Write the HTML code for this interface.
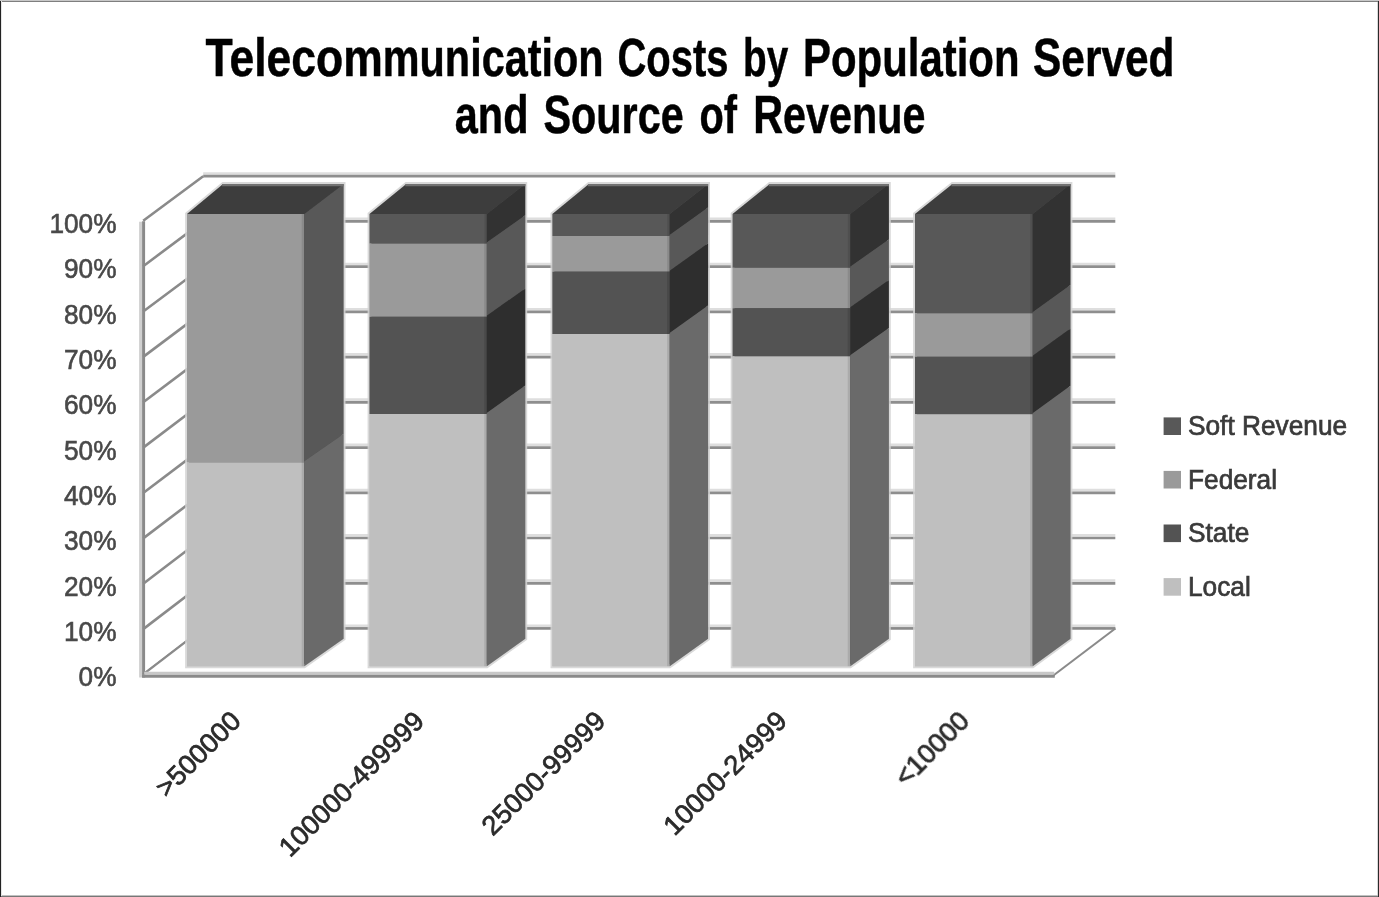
<!DOCTYPE html>
<html><head><meta charset="utf-8"><title>Telecommunication Costs by Population Served and Source of Revenue</title>
<style>
html,body{margin:0;padding:0;background:#fff;}
body{width:1379px;height:897px;overflow:hidden;font-family:"Liberation Sans",sans-serif;}
svg{display:block;}
</style></head><body>
<svg width="1379" height="897" viewBox="0 0 1379 897">
<defs><filter id="b1" x="-5%" y="-20%" width="110%" height="140%"><feGaussianBlur stdDeviation="0.75"/></filter><filter id="b2" x="-2%" y="-2%" width="104%" height="104%"><feGaussianBlur stdDeviation="0.55"/></filter></defs>
<rect width="1379" height="897" fill="#fff"/>
<g filter="url(#b2)">
<line x1="203.2" y1="625.8" x2="1115.3" y2="625.8" stroke="#dedede" stroke-width="2.6"/>
<line x1="203.2" y1="628.5" x2="1115.3" y2="628.5" stroke="#8e8e8e" stroke-width="2.7"/>
<line x1="203.2" y1="580.6" x2="1115.3" y2="580.6" stroke="#dedede" stroke-width="2.6"/>
<line x1="203.2" y1="583.3" x2="1115.3" y2="583.3" stroke="#8e8e8e" stroke-width="2.7"/>
<line x1="203.2" y1="535.3" x2="1115.3" y2="535.3" stroke="#dedede" stroke-width="2.6"/>
<line x1="203.2" y1="538.0" x2="1115.3" y2="538.0" stroke="#8e8e8e" stroke-width="2.7"/>
<line x1="203.2" y1="490.1" x2="1115.3" y2="490.1" stroke="#dedede" stroke-width="2.6"/>
<line x1="203.2" y1="492.8" x2="1115.3" y2="492.8" stroke="#8e8e8e" stroke-width="2.7"/>
<line x1="203.2" y1="444.9" x2="1115.3" y2="444.9" stroke="#dedede" stroke-width="2.6"/>
<line x1="203.2" y1="447.6" x2="1115.3" y2="447.6" stroke="#8e8e8e" stroke-width="2.7"/>
<line x1="203.2" y1="399.6" x2="1115.3" y2="399.6" stroke="#dedede" stroke-width="2.6"/>
<line x1="203.2" y1="402.3" x2="1115.3" y2="402.3" stroke="#8e8e8e" stroke-width="2.7"/>
<line x1="203.2" y1="354.4" x2="1115.3" y2="354.4" stroke="#dedede" stroke-width="2.6"/>
<line x1="203.2" y1="357.1" x2="1115.3" y2="357.1" stroke="#8e8e8e" stroke-width="2.7"/>
<line x1="203.2" y1="309.2" x2="1115.3" y2="309.2" stroke="#dedede" stroke-width="2.6"/>
<line x1="203.2" y1="311.9" x2="1115.3" y2="311.9" stroke="#8e8e8e" stroke-width="2.7"/>
<line x1="203.2" y1="264.0" x2="1115.3" y2="264.0" stroke="#dedede" stroke-width="2.6"/>
<line x1="203.2" y1="266.7" x2="1115.3" y2="266.7" stroke="#8e8e8e" stroke-width="2.7"/>
<line x1="203.2" y1="218.7" x2="1115.3" y2="218.7" stroke="#dedede" stroke-width="2.6"/>
<line x1="203.2" y1="221.4" x2="1115.3" y2="221.4" stroke="#8e8e8e" stroke-width="2.7"/>
<line x1="203.2" y1="173.5" x2="1115.3" y2="173.5" stroke="#dedede" stroke-width="2.6"/>
<line x1="203.2" y1="176.2" x2="1115.3" y2="176.2" stroke="#8e8e8e" stroke-width="2.7"/>
<line x1="143.2" y1="674.5" x2="203.2" y2="628.5" stroke="#8a8a8a" stroke-width="2.6"/>
<line x1="143.2" y1="629.1" x2="203.2" y2="583.3" stroke="#8a8a8a" stroke-width="2.6"/>
<line x1="143.2" y1="583.8" x2="203.2" y2="538.0" stroke="#8a8a8a" stroke-width="2.6"/>
<line x1="143.2" y1="538.4" x2="203.2" y2="492.8" stroke="#8a8a8a" stroke-width="2.6"/>
<line x1="143.2" y1="493.0" x2="203.2" y2="447.6" stroke="#8a8a8a" stroke-width="2.6"/>
<line x1="143.2" y1="447.6" x2="203.2" y2="402.3" stroke="#8a8a8a" stroke-width="2.6"/>
<line x1="143.2" y1="402.3" x2="203.2" y2="357.1" stroke="#8a8a8a" stroke-width="2.6"/>
<line x1="143.2" y1="356.9" x2="203.2" y2="311.9" stroke="#8a8a8a" stroke-width="2.6"/>
<line x1="143.2" y1="311.5" x2="203.2" y2="266.7" stroke="#8a8a8a" stroke-width="2.6"/>
<line x1="143.2" y1="266.2" x2="203.2" y2="221.4" stroke="#8a8a8a" stroke-width="2.6"/>
<line x1="143.2" y1="220.8" x2="203.2" y2="176.2" stroke="#8a8a8a" stroke-width="2.6"/>
<line x1="140.6" y1="221.8" x2="140.6" y2="677.5" stroke="#d0d0d0" stroke-width="3"/>
<line x1="143.6" y1="221.3" x2="143.6" y2="677.5" stroke="#8a8a8a" stroke-width="3"/>
<polygon points="143.2,674.5 1053.3,674.5 1115.3,628.5 203.2,628.5" fill="#fff" stroke="none"/>
<line x1="203.2" y1="628.5" x2="1115.3" y2="628.5" stroke="#8a8a8a" stroke-width="2.6"/>
<line x1="143.2" y1="674.5" x2="203.2" y2="628.5" stroke="#8a8a8a" stroke-width="2.1"/>
<line x1="1053.3" y1="675.5" x2="1115.3" y2="628.5" stroke="#8a8a8a" stroke-width="2.1"/>
<line x1="144.2" y1="673.2" x2="1054.3" y2="673.2" stroke="#c8c8c8" stroke-width="3"/>
<line x1="142.1" y1="676.2" x2="1054.8" y2="676.2" stroke="#8a8a8a" stroke-width="3.1"/>
<polygon points="187.0,666.3 187.0,214.0 223.1,184.0 343.6,184.0 343.6,638.7 304.3,666.3" fill="#4a4a4a" stroke="#d2d2d2" stroke-opacity="0.85" stroke-width="3.8"/>
<rect x="187.0" y="214.0" width="117.3" height="248.3" fill="#9a9a9a"/>
<polygon points="304.3,214.0 343.6,184.0 343.6,433.9 304.3,461.3" fill="#595959"/>
<rect x="187.0" y="462.3" width="117.3" height="204.0" fill="#bfbfbf"/>
<polygon points="304.3,461.3 343.6,433.9 343.6,638.7 304.3,666.3" fill="#6b6b6b"/>
<line x1="303.0" y1="214.0" x2="303.0" y2="666.3" stroke="#000" stroke-opacity="0.1" stroke-width="2.6"/>
<polygon points="187.0,214.0 223.1,184.0 343.6,184.0 304.3,214.0" fill="#3e3e3e"/>
<line x1="222.1" y1="185.1" x2="343.6" y2="185.1" stroke="#727272" stroke-width="2.4"/>
<polygon points="369.5,666.3 369.5,214.0 406.3,184.0 525.3,184.0 525.3,638.7 486.8,666.3" fill="#4a4a4a" stroke="#d2d2d2" stroke-opacity="0.85" stroke-width="3.8"/>
<rect x="369.5" y="214.0" width="117.3" height="29.6" fill="#595959"/>
<polygon points="486.8,214.0 525.3,184.0 525.3,215.2 486.8,242.6" fill="#333333"/>
<rect x="369.5" y="243.6" width="117.3" height="73.2" fill="#9a9a9a"/>
<polygon points="486.8,242.6 525.3,215.2 525.3,288.4 486.8,315.8" fill="#595959"/>
<rect x="369.5" y="316.8" width="117.3" height="97.2" fill="#525252"/>
<polygon points="486.8,315.8 525.3,288.4 525.3,385.6 486.8,413.0" fill="#2f2f2f"/>
<rect x="369.5" y="414.0" width="117.3" height="252.3" fill="#bfbfbf"/>
<polygon points="486.8,413.0 525.3,385.6 525.3,638.7 486.8,666.3" fill="#6b6b6b"/>
<line x1="485.5" y1="214.0" x2="485.5" y2="666.3" stroke="#000" stroke-opacity="0.1" stroke-width="2.6"/>
<polygon points="369.5,214.0 406.3,184.0 525.3,184.0 486.8,214.0" fill="#3e3e3e"/>
<line x1="405.3" y1="185.1" x2="525.3" y2="185.1" stroke="#727272" stroke-width="2.4"/>
<polygon points="552.4,666.3 552.4,214.0 588.9,184.0 708.1,184.0 708.1,638.7 669.7,666.3" fill="#4a4a4a" stroke="#d2d2d2" stroke-opacity="0.85" stroke-width="3.8"/>
<rect x="552.4" y="214.0" width="117.3" height="22.0" fill="#595959"/>
<polygon points="669.7,214.0 708.1,184.0 708.1,207.6 669.7,235.0" fill="#333333"/>
<rect x="552.4" y="236.0" width="117.3" height="35.7" fill="#9a9a9a"/>
<polygon points="669.7,235.0 708.1,207.6 708.1,243.3 669.7,270.7" fill="#595959"/>
<rect x="552.4" y="271.7" width="117.3" height="62.3" fill="#525252"/>
<polygon points="669.7,270.7 708.1,243.3 708.1,305.6 669.7,333.0" fill="#2f2f2f"/>
<rect x="552.4" y="334.0" width="117.3" height="332.3" fill="#bfbfbf"/>
<polygon points="669.7,333.0 708.1,305.6 708.1,638.7 669.7,666.3" fill="#6b6b6b"/>
<line x1="668.4" y1="214.0" x2="668.4" y2="666.3" stroke="#000" stroke-opacity="0.1" stroke-width="2.6"/>
<polygon points="552.4,214.0 588.9,184.0 708.1,184.0 669.7,214.0" fill="#3e3e3e"/>
<line x1="587.9" y1="185.1" x2="708.1" y2="185.1" stroke="#727272" stroke-width="2.4"/>
<polygon points="732.6,666.3 732.6,214.0 769.8,184.0 888.9,184.0 888.9,638.7 850.3,666.3" fill="#4a4a4a" stroke="#d2d2d2" stroke-opacity="0.85" stroke-width="3.8"/>
<rect x="732.6" y="214.0" width="117.7" height="53.8" fill="#595959"/>
<polygon points="850.3,214.0 888.9,184.0 888.9,239.4 850.3,266.8" fill="#333333"/>
<rect x="732.6" y="267.8" width="117.7" height="40.5" fill="#9a9a9a"/>
<polygon points="850.3,266.8 888.9,239.4 888.9,279.9 850.3,307.3" fill="#595959"/>
<rect x="732.6" y="308.3" width="117.7" height="48.0" fill="#525252"/>
<polygon points="850.3,307.3 888.9,279.9 888.9,327.9 850.3,355.3" fill="#2f2f2f"/>
<rect x="732.6" y="356.3" width="117.7" height="310.0" fill="#bfbfbf"/>
<polygon points="850.3,355.3 888.9,327.9 888.9,638.7 850.3,666.3" fill="#6b6b6b"/>
<line x1="849.0" y1="214.0" x2="849.0" y2="666.3" stroke="#000" stroke-opacity="0.1" stroke-width="2.6"/>
<polygon points="732.6,214.0 769.8,184.0 888.9,184.0 850.3,214.0" fill="#3e3e3e"/>
<line x1="768.8" y1="185.1" x2="888.9" y2="185.1" stroke="#727272" stroke-width="2.4"/>
<polygon points="915.0,666.3 915.0,214.0 952.5,184.0 1070.5,184.0 1070.5,638.7 1032.7,666.3" fill="#4a4a4a" stroke="#d2d2d2" stroke-opacity="0.85" stroke-width="3.8"/>
<rect x="915.0" y="214.0" width="117.7" height="99.3" fill="#595959"/>
<polygon points="1032.7,214.0 1070.5,184.0 1070.5,284.9 1032.7,312.3" fill="#333333"/>
<rect x="915.0" y="313.3" width="117.7" height="43.5" fill="#9a9a9a"/>
<polygon points="1032.7,312.3 1070.5,284.9 1070.5,328.4 1032.7,355.8" fill="#595959"/>
<rect x="915.0" y="356.8" width="117.7" height="57.4" fill="#525252"/>
<polygon points="1032.7,355.8 1070.5,328.4 1070.5,385.8 1032.7,413.2" fill="#2f2f2f"/>
<rect x="915.0" y="414.2" width="117.7" height="252.1" fill="#bfbfbf"/>
<polygon points="1032.7,413.2 1070.5,385.8 1070.5,638.7 1032.7,666.3" fill="#6b6b6b"/>
<line x1="1031.4" y1="214.0" x2="1031.4" y2="666.3" stroke="#000" stroke-opacity="0.1" stroke-width="2.6"/>
<polygon points="915.0,214.0 952.5,184.0 1070.5,184.0 1032.7,214.0" fill="#3e3e3e"/>
<line x1="951.5" y1="185.1" x2="1070.5" y2="185.1" stroke="#727272" stroke-width="2.4"/>
</g>
<g font-family="'Liberation Sans', sans-serif" font-size="27" fill="#484848" stroke="#484848" stroke-width="0.6" filter="url(#b1)">
<text x="116.5" y="686.4" text-anchor="end" textLength="37.9" lengthAdjust="spacingAndGlyphs">0%</text>
<text x="116.5" y="641.0" text-anchor="end" textLength="52.5" lengthAdjust="spacingAndGlyphs">10%</text>
<text x="116.5" y="595.7" text-anchor="end" textLength="52.5" lengthAdjust="spacingAndGlyphs">20%</text>
<text x="116.5" y="550.4" text-anchor="end" textLength="52.5" lengthAdjust="spacingAndGlyphs">30%</text>
<text x="116.5" y="505.0" text-anchor="end" textLength="52.5" lengthAdjust="spacingAndGlyphs">40%</text>
<text x="116.5" y="459.6" text-anchor="end" textLength="52.5" lengthAdjust="spacingAndGlyphs">50%</text>
<text x="116.5" y="414.3" text-anchor="end" textLength="52.5" lengthAdjust="spacingAndGlyphs">60%</text>
<text x="116.5" y="368.9" text-anchor="end" textLength="52.5" lengthAdjust="spacingAndGlyphs">70%</text>
<text x="116.5" y="323.6" text-anchor="end" textLength="52.5" lengthAdjust="spacingAndGlyphs">80%</text>
<text x="116.5" y="278.2" text-anchor="end" textLength="52.5" lengthAdjust="spacingAndGlyphs">90%</text>
<text x="116.5" y="232.9" text-anchor="end" textLength="67.1" lengthAdjust="spacingAndGlyphs">100%</text>
<rect x="1163.6" y="417.4" width="17.4" height="17.6" fill="#595959" stroke="none"/>
<text x="1188.0" y="435.3" text-anchor="start" textLength="159.1" lengthAdjust="spacingAndGlyphs" fill="#3a3a3a" stroke="#3a3a3a" stroke-width="0.7">Soft Revenue</text>
<rect x="1163.6" y="470.9" width="17.4" height="17.6" fill="#9a9a9a" stroke="none"/>
<text x="1188.0" y="488.8" text-anchor="start" textLength="89.0" lengthAdjust="spacingAndGlyphs" fill="#3a3a3a" stroke="#3a3a3a" stroke-width="0.7">Federal</text>
<rect x="1163.6" y="524.5" width="17.4" height="17.6" fill="#525252" stroke="none"/>
<text x="1188.0" y="542.4" text-anchor="start" textLength="61.3" lengthAdjust="spacingAndGlyphs" fill="#3a3a3a" stroke="#3a3a3a" stroke-width="0.7">State</text>
<rect x="1163.6" y="578.1" width="17.4" height="17.6" fill="#bfbfbf" stroke="none"/>
<text x="1188.0" y="596.0" text-anchor="start" textLength="62.8" lengthAdjust="spacingAndGlyphs" fill="#3a3a3a" stroke="#3a3a3a" stroke-width="0.7">Local</text>
<g transform="translate(242.6,722.6) rotate(-45)" fill="#2a2a2a" stroke="#2a2a2a" stroke-width="0.75"><text x="0.0" y="0.0" text-anchor="end" textLength="107.4" lengthAdjust="spacingAndGlyphs">&gt;500000</text></g>
<g transform="translate(425.7,722.6) rotate(-45)" fill="#2a2a2a" stroke="#2a2a2a" stroke-width="0.75"><text x="0.0" y="0.0" text-anchor="end" textLength="192.0" lengthAdjust="spacingAndGlyphs">100000-499999</text></g>
<g transform="translate(607.0,722.6) rotate(-45)" fill="#2a2a2a" stroke="#2a2a2a" stroke-width="0.75"><text x="0.0" y="0.0" text-anchor="end" textLength="161.5" lengthAdjust="spacingAndGlyphs">25000-99999</text></g>
<g transform="translate(788.6,722.6) rotate(-45)" fill="#2a2a2a" stroke="#2a2a2a" stroke-width="0.75"><text x="0.0" y="0.0" text-anchor="end" textLength="161.5" lengthAdjust="spacingAndGlyphs">10000-24999</text></g>
<g transform="translate(971.0,722.6) rotate(-45)" fill="#2a2a2a" stroke="#2a2a2a" stroke-width="0.75"><text x="0.0" y="0.0" text-anchor="end" textLength="92.2" lengthAdjust="spacingAndGlyphs">&lt;10000</text></g>
</g>
<g font-family="'Liberation Sans', sans-serif" font-weight="bold" font-size="53.5" fill="#000" stroke="#000" stroke-width="0.5">
<text x="205.5" y="75.7" text-anchor="start" textLength="177.3" lengthAdjust="spacingAndGlyphs">Telecom</text>
<text x="382.8" y="75.7" text-anchor="start" textLength="220.7" lengthAdjust="spacingAndGlyphs">munication</text>
<text x="617.5" y="75.7" text-anchor="start" textLength="111.0" lengthAdjust="spacingAndGlyphs">Costs</text>
<text x="743.0" y="75.7" text-anchor="start" textLength="45.2" lengthAdjust="spacingAndGlyphs">by</text>
<text x="803.0" y="75.7" text-anchor="start" textLength="216.5" lengthAdjust="spacingAndGlyphs">Population</text>
<text x="1033.0" y="75.7" text-anchor="start" textLength="141.5" lengthAdjust="spacingAndGlyphs">Served</text>
<text x="454.8" y="133.4" text-anchor="start" textLength="73.7" lengthAdjust="spacingAndGlyphs">and</text>
<text x="543.5" y="133.4" text-anchor="start" textLength="140.2" lengthAdjust="spacingAndGlyphs">Source</text>
<text x="699.5" y="133.4" text-anchor="start" textLength="37.5" lengthAdjust="spacingAndGlyphs">of</text>
<text x="753.2" y="133.4" text-anchor="start" textLength="172.3" lengthAdjust="spacingAndGlyphs">Revenue</text>
</g>
<rect x="0" y="0" width="1379" height="1" fill="#c8c8c8"/>
<rect x="0" y="1" width="1379" height="1" fill="#7f7f7f"/>
<rect x="0" y="895" width="1379" height="1" fill="#c0c0c0"/>
<rect x="0" y="896" width="1379" height="1" fill="#777"/>
<rect x="1" y="1" width="1" height="895" fill="#e6e6e6"/>
<rect x="0" y="1" width="1" height="896" fill="#222"/>
<rect x="1377" y="2" width="1" height="893" fill="#d8d8d8"/>
<rect x="1378" y="1" width="1" height="896" fill="#2a2a2a"/>
</svg>
</body></html>
